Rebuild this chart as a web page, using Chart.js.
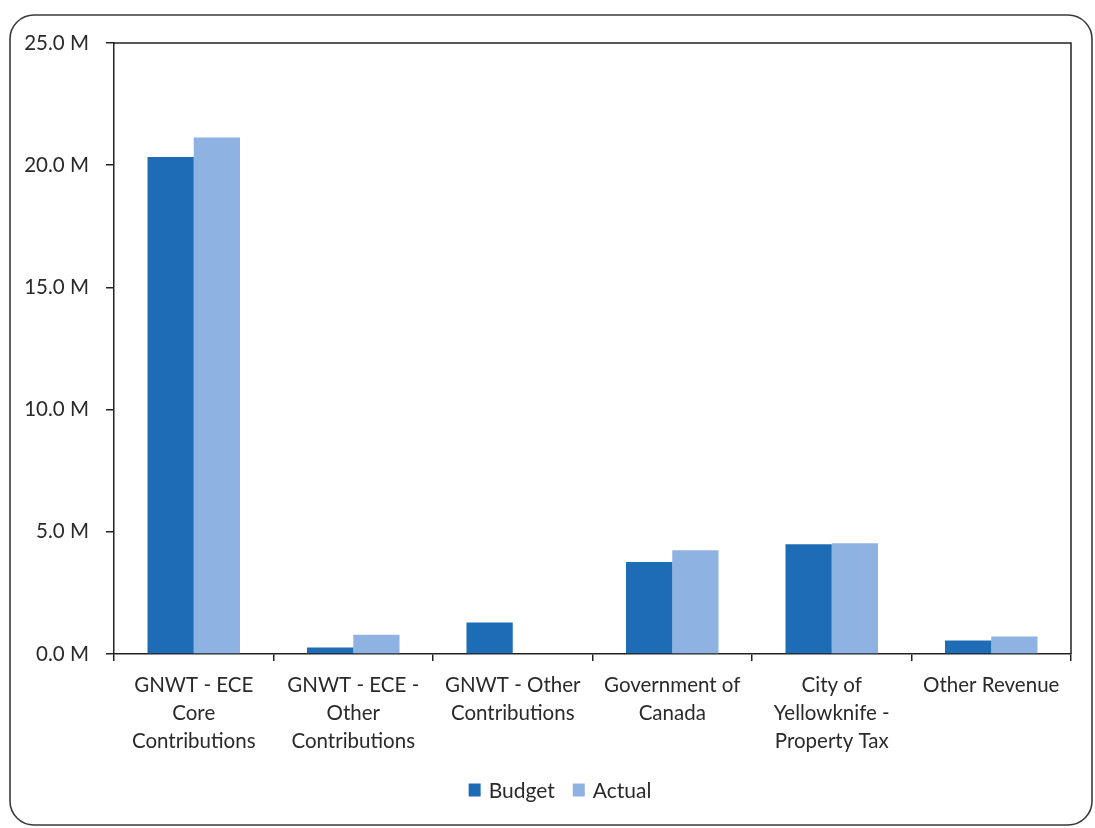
<!DOCTYPE html>
<html>
<head>
<meta charset="utf-8">
<script src="https://cdn.jsdelivr.net/npm/chart.js@4.4.1/dist/chart.umd.min.js"></script>
<style>
  html, body { margin: 0; padding: 0; background: #fff; }
  #wrap { width: 1095px; height: 828px; position: relative; }
</style>
</head>
<body>
<div id="wrap"><canvas id="chart"></canvas></div>
<script>
// Revenue sources (values in millions of dollars)
const categories = [
  ["GNWT - ECE", "Core", "Contributions"],
  ["GNWT - ECE -", "Other", "Contributions"],
  ["GNWT - Other", "Contributions"],
  ["Government of", "Canada"],
  ["City of", "Yellowknife -", "Property Tax"],
  ["Other Revenue"]
];
const budget = [20.34, 0.27, 1.29, 3.76, 4.49, 0.55];
const actual = [21.13, 0.79, 0, 4.24, 4.53, 0.72];
const yTicks = [0, 5, 10, 15, 20, 25];

const FONT = "Lato, 'Open Sans', sans-serif";
const TEXT = '#2a2a2a';
const LINE = '#222';

// Outer rounded frame, top/right edges of the plot box, and the series key
const framePlugin = {
  id: 'frame',
  beforeDraw(chart) {
    const ctx = chart.ctx;
    ctx.save();
    ctx.fillStyle = '#fff';
    ctx.fillRect(0, 0, chart.width, chart.height);
    ctx.restore();
  },
  afterDraw(chart) {
    const ctx = chart.ctx;
    const a = chart.chartArea;
    ctx.save();
    ctx.strokeStyle = '#3a3a3a';
    ctx.lineWidth = 1.6;
    ctx.beginPath();
    ctx.roundRect(10, 15, 1082, 810, 24);
    ctx.stroke();
    ctx.strokeStyle = LINE;
    ctx.lineWidth = 1.5;
    ctx.beginPath();
    ctx.moveTo(a.left, a.top);
    ctx.lineTo(a.right, a.top);
    ctx.lineTo(a.right, a.bottom);
    ctx.stroke();

    // key
    ctx.font = '21px ' + FONT;
    ctx.textBaseline = 'middle';
    ctx.textAlign = 'left';
    const boxW = 12, boxH = 13, gap = 8, itemGap = 18, cy = 790;
    const items = chart.data.datasets.map(ds => ({
      label: ds.label, color: ds.backgroundColor, w: ctx.measureText(ds.label).width
    }));
    const total = items.reduce((s, it) => s + boxW + gap + it.w, 0) + itemGap * (items.length - 1);
    let x = 560 - total / 2;
    items.forEach(it => {
      ctx.fillStyle = it.color;
      ctx.fillRect(x, cy - boxH / 2, boxW, boxH);
      x += boxW + gap;
      ctx.fillStyle = TEXT;
      ctx.fillText(it.label, x, cy + 1);
      x += it.w + itemGap;
    });
    ctx.restore();
  }
};

new Chart(document.getElementById('chart'), {
  type: 'bar',
  data: {
    labels: categories,
    datasets: [
      { label: 'Budget', data: budget, backgroundColor: '#1f6cb6', borderWidth: 0 },
      { label: 'Actual', data: actual, backgroundColor: '#8eb3e3', borderWidth: 0 }
    ]
  },
  options: {
    responsive: true,
    maintainAspectRatio: false,
    animation: false,
    devicePixelRatio: 1,
    layout: { padding: { left: 10, right: 24, top: 43, bottom: 62 } },
    datasets: { bar: { categoryPercentage: 0.58, barPercentage: 1.0 } },
    plugins: {
      tooltip: { enabled: false },
      legend: { display: false }
    },
    scales: {
      x: {
        grid: { display: true, offset: true, drawOnChartArea: false, tickLength: 7, color: LINE, lineWidth: 1.5 },
        border: { display: true, color: LINE, width: 1.5 },
        ticks: {
          font: { family: FONT, size: 20.5, lineHeight: 1.37 },
          color: TEXT,
          maxRotation: 0,
          autoSkip: false,
          padding: 10
        },
        afterFit(scale) { scale.height = 112; }
      },
      y: {
        min: 0,
        max: 25,
        afterBuildTicks(scale) { scale.ticks = yTicks.map(v => ({ value: v })); },
        grid: { display: true, drawOnChartArea: false, tickLength: 8, color: LINE, lineWidth: 1.5 },
        border: { display: true, color: LINE, width: 1.5 },
        ticks: {
          font: { family: FONT, size: 20.5 },
          color: TEXT,
          padding: 17,
          callback: v => v.toFixed(1) + ' M'
        },
        afterFit(scale) { scale.width = 104; }
      }
    }
  },
  plugins: [framePlugin]
});
</script>
</body>
</html>
